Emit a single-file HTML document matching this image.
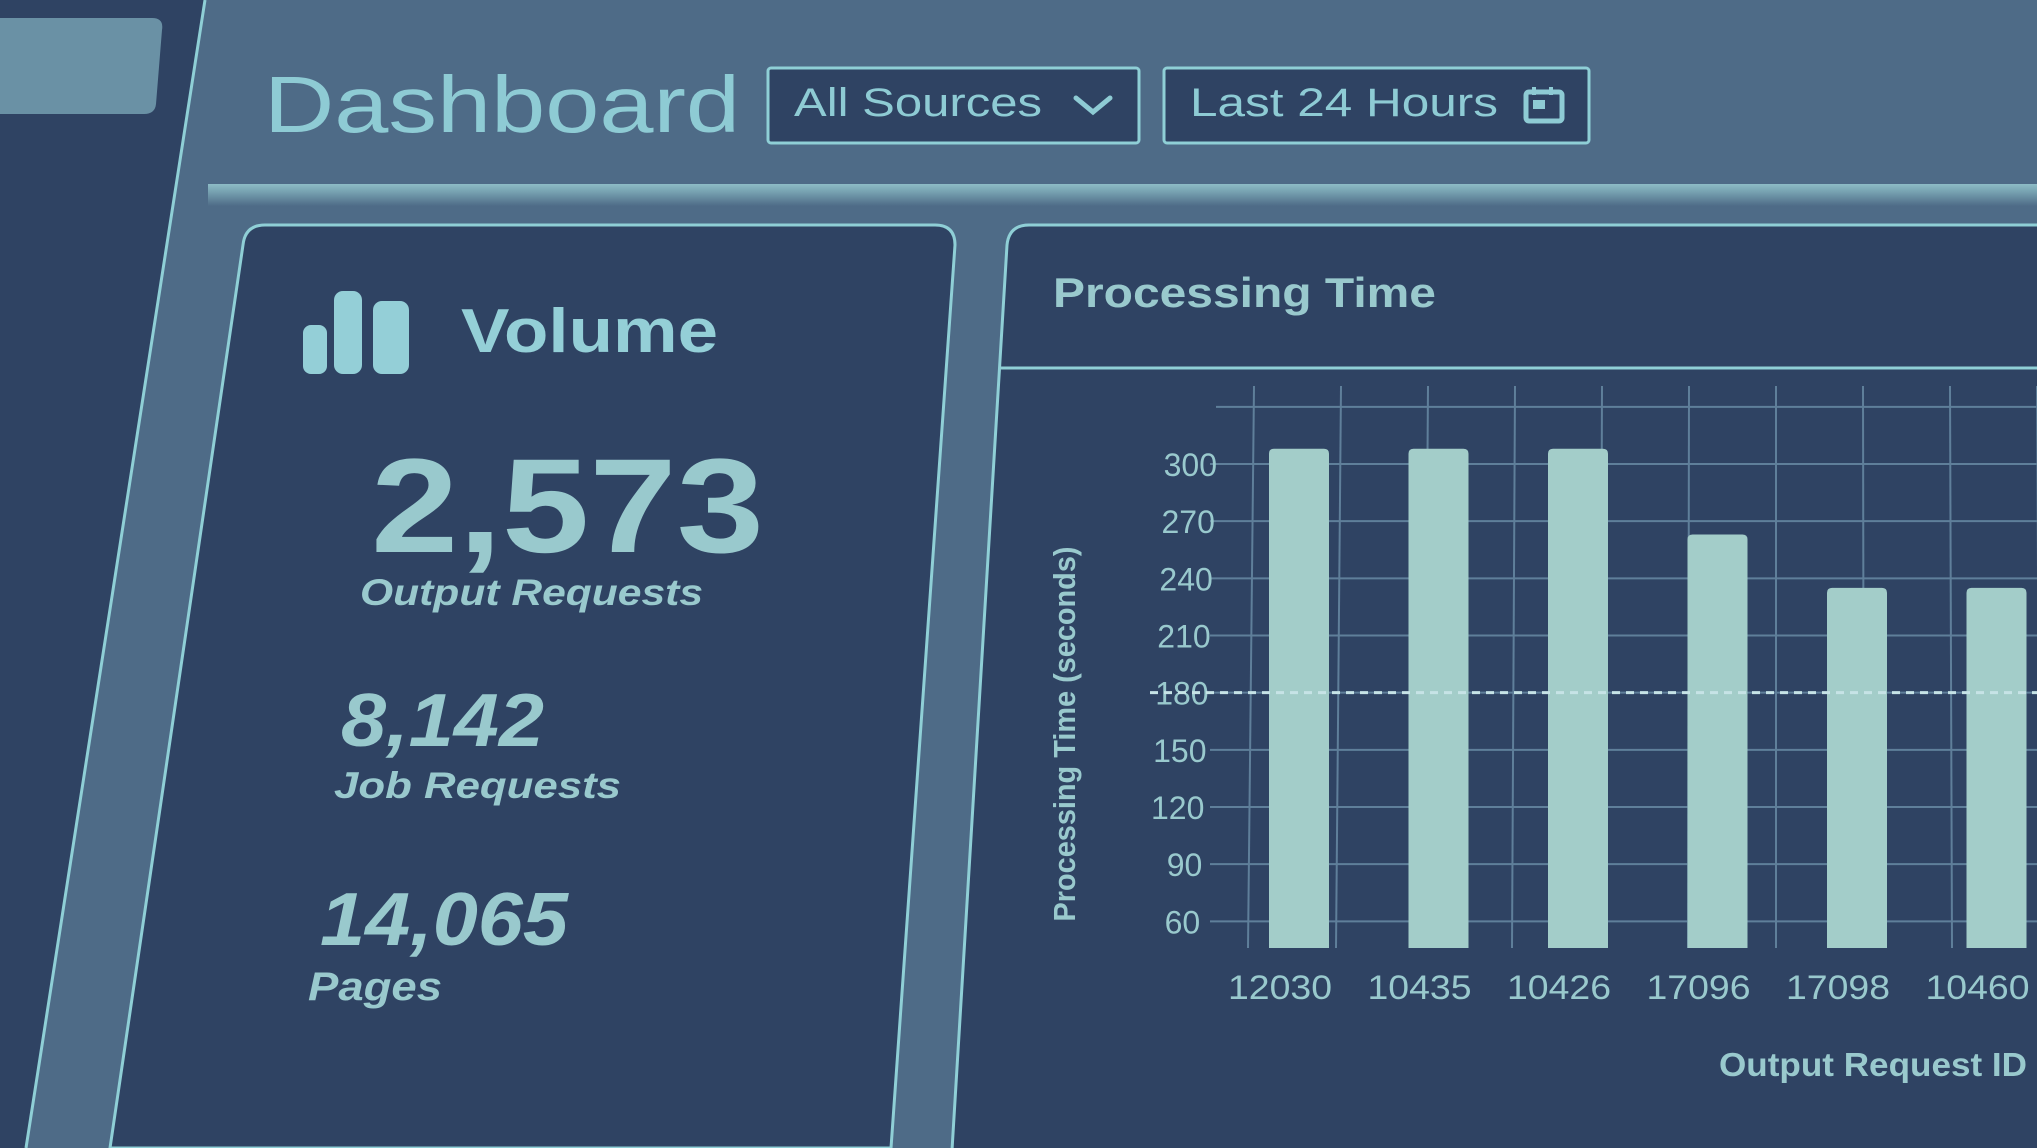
<!DOCTYPE html>
<html><head><meta charset="utf-8"><style>
html,body{margin:0;padding:0;background:#2f4363;}
svg{display:block;font-family:"Liberation Sans",sans-serif;}
</style></head><body>
<svg width="2037" height="1148" viewBox="0 0 2037 1148">
  <defs>
    <linearGradient id="glow" x1="0" y1="0" x2="0" y2="1">
      <stop offset="0" stop-color="#8dbcc6"/>
      <stop offset="0.3" stop-color="#7aa6b4"/>
      <stop offset="1" stop-color="#4e6b87"/>
    </linearGradient>
  </defs>
  <rect x="0" y="0" width="2037" height="1148" fill="#2f4363"/>
  <polygon points="205,0 2037,0 2037,1148 26,1148" fill="#4e6b87"/>
  <line x1="205" y1="0" x2="26" y2="1148" stroke="#8fcfd6" stroke-width="3"/>
  <path d="M0,18 L152,18 Q164,18 162,30 L156,104 Q155,114 144,114 L0,114 Z" fill="#6a91a5"/>
  <rect x="208" y="184" width="1829" height="22" fill="url(#glow)"/>

  <text x="264" y="132" font-size="80" fill="#8ecbd4" textLength="476" lengthAdjust="spacingAndGlyphs">Dashboard</text>
  <g>
    <rect x="768" y="68" width="371" height="75" rx="3" fill="#2f4363" stroke="#8fcfd6" stroke-width="3"/>
    <text x="794" y="116" font-size="40" fill="#8ecbd4" textLength="248" lengthAdjust="spacingAndGlyphs">All Sources</text>
    <polyline points="1076,98 1093,112 1110,98" fill="none" stroke="#8ecbd4" stroke-width="5" stroke-linecap="round"/>
  </g>
  <g>
    <rect x="1164" y="68" width="425" height="75" rx="3" fill="#2f4363" stroke="#8fcfd6" stroke-width="3"/>
    <text x="1190" y="116" font-size="40" fill="#8ecbd4" textLength="308" lengthAdjust="spacingAndGlyphs">Last 24 Hours</text>
    <g>
      <rect x="1526" y="92" width="36" height="29" rx="3" fill="none" stroke="#8ecbd4" stroke-width="5"/>
      <rect x="1533" y="100" width="12" height="9" fill="#8ecbd4"/>
      <rect x="1532" y="87" width="4" height="8" fill="#8ecbd4"/>
      <rect x="1549" y="87" width="4" height="8" fill="#8ecbd4"/>
    </g>
  </g>

  <g>
    <path d="M243,245 Q245,225 265,225 L935,225 Q955,225 955,245 L891,1148 L110,1148 Z" fill="#2f4363" stroke="#8fcfd6" stroke-width="3"/>
    <g fill="#94cfd7">
      <rect x="303" y="325" width="24" height="49" rx="8"/>
      <rect x="334" y="291" width="28" height="83" rx="9"/>
      <rect x="373" y="301" width="36" height="73" rx="9"/>
    </g>
    <text x="461" y="352" font-size="62" font-weight="bold" fill="#94cfd7" textLength="257" lengthAdjust="spacingAndGlyphs">Volume</text>
    <text x="371" y="552" font-size="134" font-weight="bold" fill="#99c9cd" textLength="393" lengthAdjust="spacingAndGlyphs">2,573</text>
    <text x="360" y="605" font-size="37" font-weight="bold" font-style="italic" fill="#99c9cd" textLength="343" lengthAdjust="spacingAndGlyphs">Output Requests</text>
    <text x="341" y="746" font-size="75" font-weight="bold" font-style="italic" fill="#99c9cd" textLength="203" lengthAdjust="spacingAndGlyphs">8,142</text>
    <text x="334" y="798" font-size="37" font-weight="bold" font-style="italic" fill="#99c9cd" textLength="287" lengthAdjust="spacingAndGlyphs">Job Requests</text>
    <text x="320" y="945" font-size="75" font-weight="bold" font-style="italic" fill="#99c9cd" textLength="248" lengthAdjust="spacingAndGlyphs">14,065</text>
    <text x="308" y="1000" font-size="40" font-weight="bold" font-style="italic" fill="#99c9cd" textLength="134" lengthAdjust="spacingAndGlyphs">Pages</text>
  </g>

  <g>
    <path d="M1007,245 Q1009,225 1029,225 L2040,225 L2040,1150 L952,1150 Z" fill="#2f4363" stroke="#8fcfd6" stroke-width="3"/>
    <line x1="1001" y1="368" x2="2037" y2="368" stroke="#8fcfd6" stroke-width="3"/>
    <text x="1053" y="307" font-size="42" font-weight="bold" fill="#99c9cd" textLength="383" lengthAdjust="spacingAndGlyphs">Processing Time</text>
  </g>
  <g id="chart"></g>
</svg>
<script>
const categories = ["12030","10435","10426","17096","17098","10460"];
const values = [308, 308, 308, 263, 235, 235];
const yTicks = [60, 90, 120, 150, 180, 210, 240, 270, 300, 330];
const threshold = [180];
const NS = "http://www.w3.org/2000/svg";
const g = document.getElementById("chart");
const yMin = 46, yMax = 300;
const yBottom = 948, yTop300 = 464;
function y(v){ return yBottom - (v - yMin) * (yBottom - yTop300) / (yMax - yMin); }
const x0 = 1299, step = 139.5;
function x(i){ return x0 + i * step; }
function mk(tag, attrs){ const e = document.createElementNS(NS, tag); for (const k in attrs) e.setAttribute(k, attrs[k]); g.appendChild(e); return e; }
for (let k = 0; k < 12; k++) {
  const xx = 1254 + k * 87;
  if (xx > 2037) break;
  const l = mk("line", {x1: xx, y1: 386, x2: xx - 6 + k, y2: 948, stroke: "#5f7f9a", "stroke-width": 2});
  
  
}
yTicks.forEach(t => {
  const yy = y(t);
  const l = mk("line", {x1: t === 330 ? 1216 : 1210, y1: yy, x2: 2037, y2: yy, stroke: "#5f7f9a", "stroke-width": 2});
  
  
  if (t <= 300) {
    const tx = mk("text", {x: 1217 - (300 - t) * 0.07, y: yy + 12, "font-size": 32, fill: "#99c9cd", "text-anchor": "end"});
    tx.textContent = t;
    
    
  }
});
values.forEach((v, i) => {
  const r = mk("path", {d: "M" + (x(i) - 30) + "," + yBottom + " L" + (x(i) - 30) + "," + (y(v) + 5) + " Q" + (x(i) - 30) + "," + y(v) + " " + (x(i) - 25) + "," + y(v) + " L" + (x(i) + 25) + "," + y(v) + " Q" + (x(i) + 30) + "," + y(v) + " " + (x(i) + 30) + "," + (y(v) + 5) + " L" + (x(i) + 30) + "," + yBottom + " Z", fill: "#a3cdc9"});
  
  
  const t = mk("text", {x: x(i) - 19, y: 999, "font-size": 34, fill: "#99c9cd", "text-anchor": "middle", textLength: 104, lengthAdjust: "spacingAndGlyphs"});
  t.textContent = categories[i];
  
  
});
threshold.forEach(v => {
  const l = mk("line", {x1: 1150, y1: y(v), x2: 2037, y2: y(v), stroke: "#c6e3e6", "stroke-width": 3, "stroke-dasharray": "8,6"});
  
  
});
const yt = mk("text", {x: 0, y: 0, "font-size": 31, "font-weight": "bold", fill: "#99c9cd", "text-anchor": "middle", transform: "translate(1075,734) rotate(-90)", textLength: 375, lengthAdjust: "spacingAndGlyphs"});
yt.textContent = "Processing Time (seconds)";


const xt = mk("text", {x: 1719, y: 1076, "font-size": 33, "font-weight": "bold", fill: "#99c9cd", textLength: 308, lengthAdjust: "spacingAndGlyphs"});
xt.textContent = "Output Request ID";


</script>
</body></html>
